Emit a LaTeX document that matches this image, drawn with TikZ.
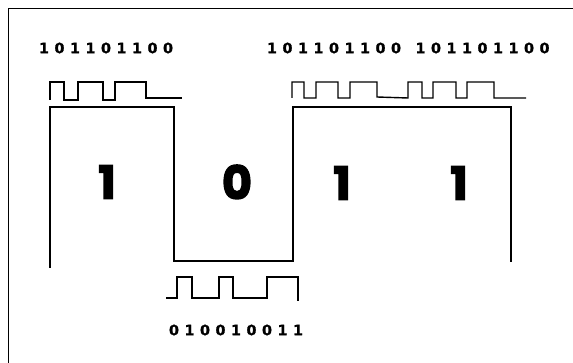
\documentclass[tikz,border=0pt]{standalone}
\usepackage{fontspec}
\newfontfamily\bitfont[LetterSpace=4, BoldFeatures={FakeBold=0.8}]{DejaVu Sans}
\newfontfamily\digitfont[BoldFeatures={FakeBold=3}]{Poppins}
\begin{document}
\begin{tikzpicture}[x=1pt, y=-1pt,
  frame/.style={line width=1pt},
  pulse/.style={line width=1.4pt, line join=miter},
  signal/.style={line width=1.3pt, line join=miter},
  bits/.style={font=\bitfont\bfseries\fontsize{14.3}{15}\selectfont, inner sep=0pt},
  bigdigit/.style={font=\digitfont\bfseries\fontsize{46}{46}\selectfont, inner sep=0pt}]
  % Rahmen
  \useasboundingbox (0,0) rectangle (573,363);
  \draw[frame] (8,363) -- (8,9) -- (573,9);
  % Bitfolgen
  \node[bits] (codeA) at (106,48) {1 0 1 1 0 1 1 0 0};
  \node[bits] (codeB) at (334,48) {1 0 1 1 0 1 1 0 0};
  \node[bits] (codeC) at (482.5,48) {1 0 1 1 0 1 1 0 0};
  \node[bits] (codeD) at (236,330) {0 1 0 0 1 0 0 1 1};
  % Pulsfolgen
  \draw[pulse] (50,100) -- (50,82) -- (64,82) -- (64,100) -- (78,100) -- (78,82)
    -- (103,82) -- (103,100) -- (115,100) -- (115,82) -- (146,82) -- (146,98) -- (182,98);
  \draw[pulse] (292,98) -- (292,82) -- (304,82) -- (304,98) -- (316,98) -- (316,82)
    -- (338,82) -- (338,98) -- (350,98) -- (350,82) -- (377,82) -- (377,97) -- (408,98)
    -- (408,82) -- (422,82) -- (422,98) -- (433,98) -- (433,82) -- (456,82) -- (456,98)
    -- (467,98) -- (467,82) -- (494,82) -- (494,98) -- (526,98);
  \draw[pulse] (166,298) -- (177,298) -- (177,277) -- (192,277) -- (192,298) -- (219,298)
    -- (219,277) -- (233,277) -- (233,298) -- (267,298) -- (267,277) -- (298,277) -- (298,301);
  % Datensignal
  \draw[signal] (50,268) -- (50,107) -- (174,107) -- (174,261) -- (293,261)
    -- (293,107) -- (511,107) -- (511,262);
  % Bits
  \node[bigdigit] (bitA) at (107,182) {1};
  \node[bigdigit] (bitB) at (237,182) {0};
  \node[bigdigit] (bitC) at (342,183) {1};
  \node[bigdigit] (bitD) at (459,183) {1};
\end{tikzpicture}
\end{document}
